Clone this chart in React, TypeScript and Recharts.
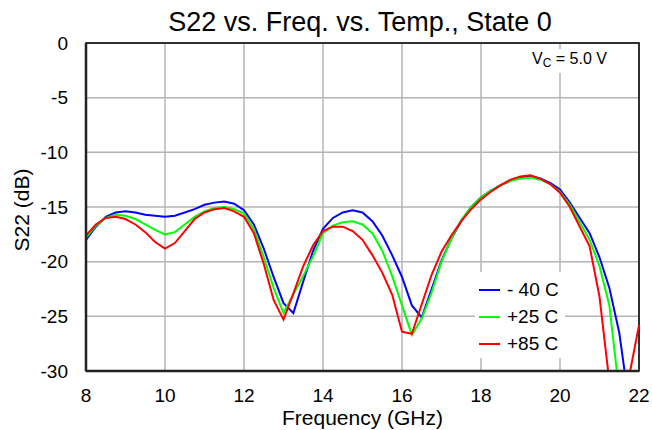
import React from 'react';
import { LineChart, Line, XAxis, YAxis, CartesianGrid, Legend, ReferenceArea } from 'recharts';

// frequency points (GHz)
const freq = [
  8, 8.25, 8.5, 8.75, 9, 9.25, 9.5, 9.75, 10, 10.25, 10.5, 10.75, 11, 11.25, 11.5, 11.75,
  12, 12.25, 12.5, 12.75, 13, 13.25, 13.5, 13.75, 14, 14.25, 14.5, 14.75, 15, 15.25, 15.5, 15.75,
  16, 16.25, 16.5, 16.75, 17, 17.25, 17.5, 17.75, 18, 18.25, 18.5, 18.75, 19, 19.25, 19.5, 19.75,
  20, 20.25, 20.5, 20.75, 21, 21.25, 21.5, 21.75, 22,
];

// S22 (dB) per temperature
const sMinus40 = [
  -18.0, -16.8, -15.9, -15.5, -15.4, -15.5, -15.7, -15.8, -15.9, -15.8, -15.5, -15.2, -14.8, -14.6, -14.5, -14.7,
  -15.3, -16.6, -18.8, -21.4, -23.8, -24.7, -21.8, -19.0, -17.0, -16.0, -15.5, -15.3, -15.5, -16.3, -17.6, -19.4,
  -21.4, -24.0, -25.1, -22.5, -19.9, -17.9, -16.3, -15.0, -14.1, -13.5, -13.0, -12.6, -12.3, -12.2, -12.4, -12.8,
  -13.4, -14.6, -16.0, -17.4, -19.6, -22.4, -26.5, -33.0, -40.0,
];
const sPlus25 = [
  -17.8, -16.7, -16.0, -15.7, -15.8, -16.1, -16.6, -17.1, -17.5, -17.3, -16.6, -15.9, -15.4, -15.1, -15.0, -15.2,
  -15.6, -17.0, -19.6, -22.4, -24.7, -23.0, -21.3, -19.5, -17.4, -16.7, -16.4, -16.3, -16.6, -17.4, -19.0, -21.3,
  -24.0, -26.7, -25.2, -22.8, -20.0, -17.9, -16.2, -15.0, -14.1, -13.5, -13.0, -12.6, -12.4, -12.3, -12.5, -12.9,
  -13.6, -14.8, -16.4, -18.0, -20.4, -24.0, -32.0, -38.0, -45.0,
];
const sPlus85 = [
  -17.6, -16.6, -16.0, -15.9, -16.1, -16.6, -17.3, -18.2, -18.8, -18.3, -17.2, -16.1, -15.5, -15.2, -15.1, -15.4,
  -15.9, -17.4, -20.2, -23.5, -25.3, -22.9, -20.4, -18.5, -17.2, -16.8, -16.8, -17.2, -18.0, -19.4, -21.0, -23.0,
  -26.4, -26.6, -23.9, -21.2, -19.1, -17.6, -16.3, -15.2, -14.3, -13.6, -13.0, -12.5, -12.2, -12.1, -12.4, -12.9,
  -13.7, -15.0, -16.8, -18.6, -23.2, -31.0, -36.0, -30.5, -25.8,
];

const xTicks = [8, 10, 12, 14, 16, 18, 20, 22];
const yTicks = [-30, -25, -20, -15, -10, -5, 0];

const series = [
  { key: 'm40', name: '- 40 C', color: '#0000ff', values: sMinus40 },
  { key: 'p25', name: '+25 C', color: '#00ff00', values: sPlus25 },
  { key: 'p85', name: '+85 C', color: '#ff0000', values: sPlus85 },
];

const rows = freq.map((f, i) => {
  const r: Record<string, number> = { f };
  series.forEach((s) => { r[s.key] = s.values[i]; });
  return r;
});

const FONT = '"Liberation Sans", Arial, Helvetica, sans-serif';

const renderLegend = () => (
  <div style={{ background: '#fff', width: 90, height: 86, paddingTop: 4, boxSizing: 'border-box' }}>
    {series.map((s) => (
      <div key={s.key} style={{ display: 'flex', alignItems: 'center', height: 27 }}>
        <span style={{ display: 'inline-block', width: 21, height: 2, background: s.color, marginLeft: 4, marginRight: 7 }} />
        <span style={{ fontSize: 19, fontFamily: FONT, color: '#000' }}>{s.name}</span>
      </div>
    ))}
  </div>
);

export default function App() {
  return (
    <div style={{ position: 'absolute', left: 0, top: 0, width: 652, height: 430, background: '#fff', fontFamily: FONT }}>
      <LineChart width={652} height={430} data={rows} margin={{ top: 43, right: 13, bottom: 29, left: 0 }}>
        <CartesianGrid stroke="#b4b4b4" strokeWidth={1.5} />
        <XAxis
          dataKey="f"
          type="number"
          domain={[8, 22]}
          ticks={xTicks}
          height={30}
          tickSize={0}
          tickMargin={18}
          axisLine={{ stroke: '#222', strokeWidth: 2.5 }}
          tick={{ fontSize: 19, fill: '#000', fontFamily: FONT }}
        />
        <YAxis
          type="number"
          domain={[-30, 0]}
          ticks={yTicks}
          allowDataOverflow
          width={86}
          tickSize={0}
          tickMargin={18}
          axisLine={{ stroke: '#222', strokeWidth: 2.5 }}
          tick={{ fontSize: 19, fill: '#000', fontFamily: FONT }}
        />
        {series.map((s) => (
          <Line
            key={s.key}
            dataKey={s.key}
            name={s.name}
            type="linear"
            stroke={s.color}
            strokeWidth={2}
            dot={false}
            isAnimationActive={false}
          />
        ))}
        <ReferenceArea x1={8} x2={22} y1={-30} y2={0} fill="none" stroke="#000" strokeWidth={1.5} ifOverflow="visible" />
        <Legend
          layout="vertical"
          align="center"
          verticalAlign="middle"
          content={renderLegend}
          wrapperStyle={{ position: 'absolute', left: 475, top: 272, width: 90, height: 86 }}
        />
      </LineChart>

      <div style={{ position: 'absolute', left: 80, width: 560, top: 9, textAlign: 'center', fontSize: 27, lineHeight: '27px', color: '#000' }}>
        S22 vs. Freq. vs. Temp., State 0
      </div>
      <div style={{ position: 'absolute', left: 86, width: 553, top: 407, textAlign: 'center', fontSize: 21, lineHeight: '21px', color: '#000' }}>
        Frequency (GHz)
      </div>
      <div style={{ position: 'absolute', left: -78, top: 199, width: 200, height: 22, textAlign: 'center', fontSize: 21, lineHeight: '22px', color: '#000', transform: 'rotate(-90deg)' }}>
        S22 (dB)
      </div>
      <div style={{ position: 'absolute', left: 528, top: 49, padding: '0 4px', background: '#fff', fontSize: 16, lineHeight: '20px', color: '#000' }}>
        V<sub style={{ fontSize: 12, verticalAlign: '-3px' }}>C</sub> = 5.0 V
      </div>
    </div>
  );
}
